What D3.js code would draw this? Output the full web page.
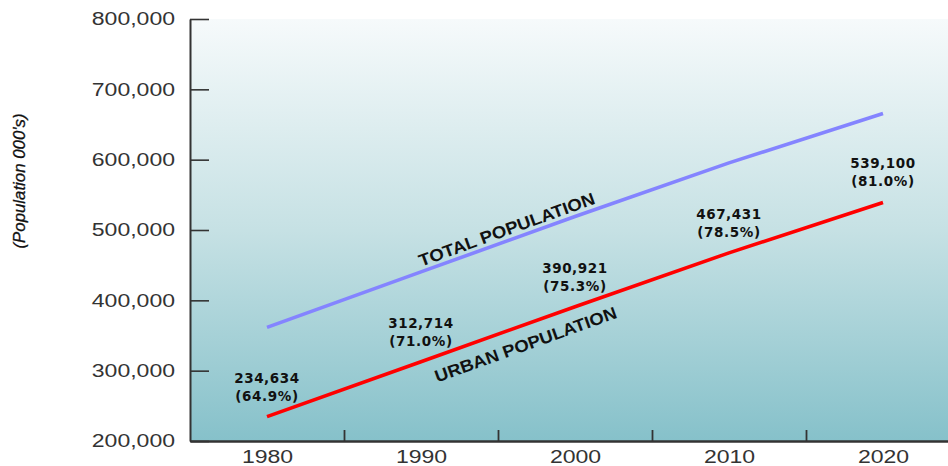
<!DOCTYPE html>
<html>
<head>
<meta charset="utf-8">
<script src="https://cdn.jsdelivr.net/npm/d3@7"></script>
<style>
  html, body { margin: 0; padding: 0; background: #fff; }
  svg { display: block; }
</style>
</head>
<body>
<svg id="chart" width="948" height="466"></svg>
<script>
// ---- data ----
const years = [1980, 1990, 2000, 2010, 2020];
const totalPopulation = [361531, 440442, 519151, 595454, 665556];
const urbanPopulation = [234634, 312714, 390921, 467431, 539100];
const urbanShare = ["64.9%", "71.0%", "75.3%", "78.5%", "81.0%"];
const yTicks = [200000, 300000, 400000, 500000, 600000, 700000, 800000];
const xLabelTicks = [1980, 1990, 2000, 2010, 2020];
const xMinorTicks = [1985, 1995, 2005, 2015];
const seriesLabels = ["TOTAL POPULATION", "URBAN POPULATION"];
const yTitle = "(Population 000's)";

// ---- layout ----
const svg = d3.select("#chart");
const plotLeft = 190, plotTop = 19, plotBottom = 441;
const x = d3.scaleLinear().domain([1975, 2025]).range([plotLeft, plotLeft + 50 * 15.4]);
const y = d3.scaleLinear().domain([200000, 800000]).range([plotBottom, plotTop]);

// background gradient
const defs = svg.append("defs");
const grad = defs.append("linearGradient").attr("id", "bg")
  .attr("x1", 0).attr("y1", 0).attr("x2", 0).attr("y2", 1);
grad.append("stop").attr("offset", "0%").attr("stop-color", "#f6fafb");
grad.append("stop").attr("offset", "50%").attr("stop-color", "#c6e1e4");
grad.append("stop").attr("offset", "100%").attr("stop-color", "#86c1ca");

svg.append("rect")
  .attr("x", plotLeft).attr("y", plotTop)
  .attr("width", 948 - plotLeft).attr("height", plotBottom - plotTop)
  .attr("fill", "url(#bg)");

// ---- axes ----
const axisColor = "#333";
const sx = 1.28;

const yAxis = svg.append("g")
  .attr("transform", `translate(${plotLeft},0)`)
  .call(d3.axisLeft(y).tickValues(yTicks).tickSizeInner(-19).tickSizeOuter(0)
    .tickPadding(15).tickFormat(d3.format(",")));
yAxis.select(".domain").attr("stroke", axisColor).attr("stroke-width", 2);
yAxis.selectAll(".tick line").attr("stroke", axisColor).attr("stroke-width", 1.6);
yAxis.selectAll(".tick text")
  .attr("font-family", "'Liberation Sans', Arial, sans-serif")
  .attr("font-size", 18).attr("fill", "#333")
  .attr("x", -15 / sx)
  .attr("transform", `scale(${sx},1)`);

const xMinor = svg.append("g")
  .attr("transform", `translate(0,${plotBottom})`)
  .call(d3.axisBottom(x).tickValues(xMinorTicks).tickSizeInner(-11).tickSizeOuter(0).tickFormat(""));
xMinor.select(".domain").attr("stroke", axisColor).attr("stroke-width", 2.4);
xMinor.selectAll(".tick line").attr("stroke", axisColor).attr("stroke-width", 1.8);

const xLab = svg.append("g")
  .attr("transform", `translate(0,${plotBottom})`)
  .call(d3.axisBottom(x).tickValues(xLabelTicks).tickSize(0).tickPadding(9).tickFormat(d3.format("d")));
xLab.select(".domain").remove();
xLab.selectAll(".tick text")
  .attr("font-family", "'Liberation Sans', Arial, sans-serif")
  .attr("font-size", 18).attr("fill", "#333")
  .attr("transform", `scale(${sx},1)`)
  .attr("x", 0);

// ---- lines ----
const line = d3.line().x(d => x(d[0])).y(d => y(d[1]));
svg.append("path")
  .datum(years.map((yr, i) => [yr, totalPopulation[i]]))
  .attr("d", line).attr("fill", "none")
  .attr("stroke", "#8484ff").attr("stroke-width", 3.6);
svg.append("path")
  .datum(years.map((yr, i) => [yr, urbanPopulation[i]]))
  .attr("d", line).attr("fill", "none")
  .attr("stroke", "#ff0000").attr("stroke-width", 3.6);

// ---- value annotations ----
const fmt = d3.format(",");
const ann = svg.append("g")
  .attr("font-family", "'DejaVu Sans', Verdana, sans-serif")
  .attr("font-weight", "bold").attr("font-size", 13.5)
  .attr("fill", "#111").attr("text-anchor", "middle")
  .attr("letter-spacing", 0.6);
years.forEach((yr, i) => {
  const cx = x(yr), cy = y(urbanPopulation[i]);
  ann.append("text").attr("x", cx).attr("y", cy - 34).text(fmt(urbanPopulation[i]));
  ann.append("text").attr("x", cx).attr("y", cy - 16).text(`(${urbanShare[i]})`);
});

// ---- rotated series labels ----
function angleOf(vals) {
  const dx = x(years[4]) - x(years[0]);
  const dy = y(vals[4]) - y(vals[0]);
  return Math.atan2(dy, dx) * 180 / Math.PI;
}
const aT = angleOf(totalPopulation);
const aU = angleOf(urbanPopulation);

svg.append("text")
  .attr("transform", `translate(${x(1995.5) + 3},${y(480000) - 9}) rotate(${aT - 0.8})`)
  .attr("text-anchor", "middle")
  .attr("font-family", "'Liberation Sans', Arial, sans-serif")
  .attr("font-weight", "bold").attr("font-size", 17)
  .attr("fill", "#111")
  .attr("textLength", 186).attr("lengthAdjust", "spacingAndGlyphs")
  .text(seriesLabels[0]);

svg.append("text")
  .attr("transform", `translate(${x(1996.6) + 5},${y(362000) + 23}) rotate(${aU - 0.6})`)
  .attr("text-anchor", "middle")
  .attr("font-family", "'Liberation Sans', Arial, sans-serif")
  .attr("font-weight", "bold").attr("font-size", 17)
  .attr("fill", "#111")
  .attr("textLength", 192).attr("lengthAdjust", "spacingAndGlyphs")
  .text(seriesLabels[1]);

// ---- y title ----
svg.append("text")
  .attr("transform", "translate(25,181) rotate(-90)")
  .attr("text-anchor", "middle")
  .attr("font-family", "'Liberation Sans', Arial, sans-serif")
  .attr("font-style", "italic").attr("font-size", 17)
  .attr("fill", "#111")
  .attr("stroke", "#111").attr("stroke-width", 0.3)
  .attr("textLength", 135).attr("lengthAdjust", "spacingAndGlyphs")
  .text(yTitle);
</script>
</body>
</html>
